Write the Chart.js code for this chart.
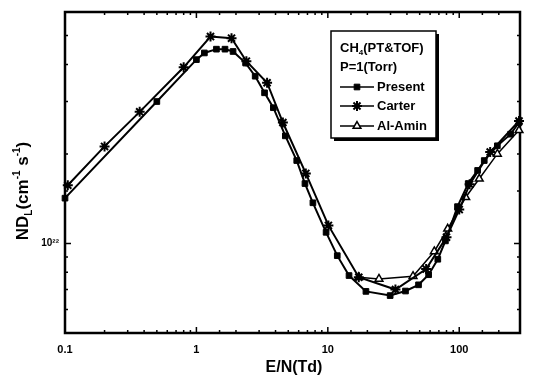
<!DOCTYPE html>
<html><head><meta charset="utf-8">
<script src="https://cdn.jsdelivr.net/npm/chart.js@4/dist/chart.umd.min.js"></script>
<style>html,body{margin:0;padding:0;background:#fff}</style>
</head><body>
<canvas id="c" width="534" height="376"></canvas>
<script>
// ---- data ----
const presentX = [0.1, 0.5, 1.0, 1.15, 1.42, 1.65, 1.9, 2.37, 2.8, 3.3, 3.85, 4.75, 5.8, 6.7, 7.7, 9.7, 11.8, 14.5, 19.5, 29.8, 39, 49, 58.5, 68.7, 78.5, 97, 117, 138, 155, 195, 246, 285];
const presentY = [1.42e22, 3.0e22, 4.15e22, 4.37e22, 4.5e22, 4.5e22, 4.42e22, 4.04e22, 3.65e22, 3.21e22, 2.86e22, 2.3e22, 1.9e22, 1.59e22, 1.37e22, 1.09e22, 9.1e21, 7.8e21, 6.9e21, 6.68e21, 6.92e21, 7.26e21, 7.85e21, 8.85e21, 1.02e22, 1.33e22, 1.59e22, 1.76e22, 1.9e22, 2.13e22, 2.33e22, 2.55e22];
const carterX = [0.105, 0.2, 0.37, 0.8, 1.28, 1.85, 2.4, 3.45, 4.55, 6.8, 10.1, 17.2, 32.7, 56, 80, 100, 120, 172, 285];
const carterY = [1.57e22, 2.12e22, 2.77e22, 3.91e22, 4.96e22, 4.9e22, 4.1e22, 3.47e22, 2.55e22, 1.72e22, 1.15e22, 7.7e21, 7.0e21, 8.2e21, 1.05e22, 1.3e22, 1.58e22, 2.03e22, 2.58e22];
const alaminX = [17.2, 24.5, 44.5, 64.6, 81.7, 112, 142, 195, 285];
const alaminY = [7.7e21, 7.6e21, 7.76e21, 9.4e21, 1.12e22, 1.43e22, 1.65e22, 2.0e22, 2.4e22];
const xLabelValues = [0.1, 1, 10, 100];
const yLabelValues = [1e22];
const seriesNames = ['Present', 'Carter', 'Al-Amin'];
const legendTitle1 = ['CH', '4', '(PT&TOF)'];
const legendTitle2 = 'P=1(Torr)';
const xTitle = 'E/N(Td)';

const FONT = '"Liberation Sans", Arial, sans-serif';
const pts = (xs, ys) => xs.map((x, i) => ({x, y: ys[i]}));

const framePlugin = {
  id: 'frame',
  beforeDatasetsDraw(chart) {
    const {ctx, chartArea: a, scales: {x, y}} = chart;
    ctx.save();
    ctx.strokeStyle = '#000';
    ctx.lineWidth = 2.5;
    ctx.strokeRect(a.left, a.top, a.right - a.left, a.bottom - a.top);
    ctx.lineWidth = 1.5;
    const isPow = v => Math.abs(Math.log10(v) - Math.round(Math.log10(v))) < 1e-6;
    x.ticks.forEach(t => {
      const px = x.getPixelForValue(t.value);
      if (px < a.left + 1 || px > a.right - 1) return;
      const L = isPow(t.value) ? 6 : 3;
      ctx.beginPath();
      ctx.moveTo(px, a.bottom); ctx.lineTo(px, a.bottom - L);
      ctx.moveTo(px, a.top); ctx.lineTo(px, a.top + L);
      ctx.stroke();
    });
    y.ticks.forEach(t => {
      const py = y.getPixelForValue(t.value);
      if (py < a.top + 1 || py > a.bottom - 1) return;
      const L = isPow(t.value) ? 6 : 3;
      ctx.beginPath();
      ctx.moveTo(a.left, py); ctx.lineTo(a.left + L, py);
      ctx.moveTo(a.right, py); ctx.lineTo(a.right - L, py);
      ctx.stroke();
    });
    ctx.restore();
  },
  afterDraw(chart) {
    const {ctx} = chart;
    ctx.save();
    ctx.fillStyle = '#000';
    ctx.textBaseline = 'alphabetic';
    // x title
    ctx.font = 'bold 16px ' + FONT;
    ctx.textAlign = 'center';
    ctx.fillText(xTitle, 294, 372);
    // y title with sub/superscripts
    const parts = [
      {t: 'ND', s: 17, dy: 0}, {t: 'L', s: 10, dy: 4}, {t: '(cm', s: 17, dy: 0},
      {t: '-1', s: 10, dy: -8}, {t: ' s', s: 17, dy: 0}, {t: '-1', s: 10, dy: -8}, {t: ')', s: 17, dy: 0}
    ];
    let tw = 0;
    parts.forEach(p => { ctx.font = 'bold ' + p.s + 'px ' + FONT; p.w = ctx.measureText(p.t).width; tw += p.w; });
    ctx.translate(28, 191);
    ctx.rotate(-Math.PI / 2);
    ctx.textAlign = 'left';
    let cx = -tw / 2;
    parts.forEach(p => { ctx.font = 'bold ' + p.s + 'px ' + FONT; ctx.fillText(p.t, cx, p.dy); cx += p.w; });
    ctx.restore();

    // legend box
    ctx.save();
    const bx = 331, by = 31, bw = 105, bh = 107;
    ctx.fillStyle = '#000';
    ctx.fillRect(bx + 3, by + 3, bw, bh);
    ctx.fillStyle = '#fff';
    ctx.fillRect(bx, by, bw, bh);
    ctx.strokeStyle = '#000';
    ctx.lineWidth = 1.5;
    ctx.strokeRect(bx, by, bw, bh);
    ctx.fillStyle = '#000';
    ctx.textAlign = 'left';
    ctx.textBaseline = 'middle';
    let tx = 340;
    ctx.font = 'bold 13px ' + FONT;
    ctx.fillText(legendTitle1[0], tx, 48); tx += ctx.measureText(legendTitle1[0]).width;
    ctx.font = 'bold 8px ' + FONT;
    ctx.fillText(legendTitle1[1], tx, 53); tx += ctx.measureText(legendTitle1[1]).width;
    ctx.font = 'bold 13px ' + FONT;
    ctx.fillText(legendTitle1[2], tx, 48);
    ctx.fillText(legendTitle2, 340, 67);
    const rows = [87, 106, 126];
    chart.data.datasets.forEach((ds, i) => {
      const yy = rows[i];
      ctx.strokeStyle = '#000';
      ctx.lineWidth = 1.5;
      ctx.beginPath(); ctx.moveTo(340, yy); ctx.lineTo(374, yy); ctx.stroke();
      ctx.fillStyle = ds.pointBackgroundColor;
      ctx.strokeStyle = '#000';
      ctx.lineWidth = ds.pointBorderWidth;
      Chart.helpers.drawPoint(ctx, {pointStyle: ds.pointStyle, radius: ds.pointRadius, rotation: 0, borderWidth: ds.pointBorderWidth}, 357, yy);
      ctx.fillStyle = '#000';
      ctx.font = 'bold 13px ' + FONT;
      ctx.fillText(ds.label, 377, yy);
    });
    ctx.restore();
  }
};

new Chart(document.getElementById('c'), {
  type: 'line',
  data: {
    datasets: [
      {label: seriesNames[0], data: pts(presentX, presentY), borderColor: '#000', borderWidth: 2,
       pointStyle: 'rect', pointRadius: 4, pointBackgroundColor: '#000', pointBorderColor: '#000', pointBorderWidth: 1, clip: false},
      {label: seriesNames[1], data: pts(carterX, carterY), borderColor: '#000', borderWidth: 2,
       pointStyle: 'star', pointRadius: 5, pointBackgroundColor: '#000', pointBorderColor: '#000', pointBorderWidth: 2, clip: false},
      {label: seriesNames[2], data: pts(alaminX, alaminY), borderColor: '#000', borderWidth: 1.5,
       pointStyle: 'triangle', pointRadius: 4.5, pointBackgroundColor: '#fff', pointBorderColor: '#000', pointBorderWidth: 1.5, clip: false}
    ]
  },
  options: {
    responsive: false,
    animation: false,
    devicePixelRatio: 1,
    layout: {padding: {top: 7, right: 14, left: 0, bottom: 0}},
    plugins: {legend: {display: false}, tooltip: {enabled: false}},
    elements: {line: {tension: 0}},
    scales: {
      x: {
        type: 'logarithmic', min: 0.1, max: 290,
        grid: {display: false, drawTicks: false}, border: {display: false},
        ticks: {
          autoSkip: false, maxRotation: 0, padding: 10, color: '#000',
          font: {family: FONT, weight: 'bold', size: 11},
          callback: v => { const m = xLabelValues.find(l => Math.abs(l - v) / l < 1e-6); return m !== undefined ? String(m) : ''; }
        },
        afterFit: s => { s.height = 43; }
      },
      y: {
        type: 'logarithmic', min: 5e21, max: 6e22,
        grid: {display: false, drawTicks: false}, border: {display: false},
        ticks: {
          autoSkip: false, padding: 6, color: '#000',
          font: {family: FONT, weight: 'bold', size: 10},
          callback: v => yLabelValues.some(l => Math.abs(l - v) / l < 1e-6) ? '10²²' : ''
        },
        afterFit: s => { s.width = 65; }
      }
    }
  },
  plugins: [framePlugin]
});
</script>
</body></html>
